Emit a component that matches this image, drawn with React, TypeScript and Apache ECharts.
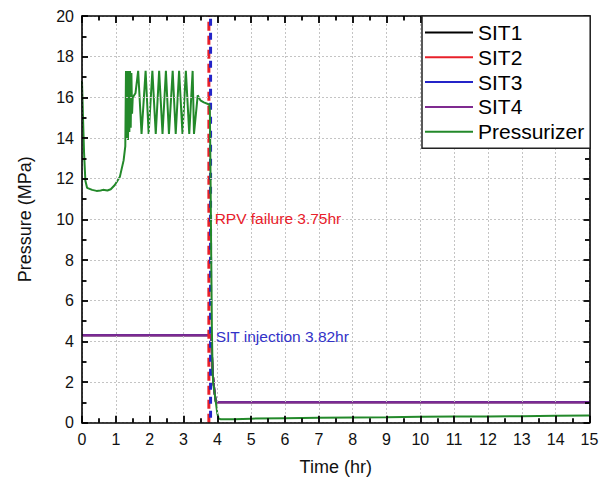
import React, { useEffect, useRef } from "react";
import * as echarts from "echarts";

// ---- Data ----
const prsTime = [
  0, 0.03, 0.06, 0.1, 0.15, 0.3, 0.43, 0.55, 0.62, 0.75, 0.85, 0.97, 1.12, 1.23, 1.28,
  1.3, 1.32, 1.34, 1.36, 1.38, 1.4, 1.42, 1.44, 1.46, 1.48, 1.5, 1.58, 1.66,
  1.76, 1.88, 1.97, 2.08, 2.18, 2.28, 2.38, 2.48, 2.57, 2.68, 2.77, 2.87, 2.97, 3.07, 3.17, 3.27, 3.31,
  3.42, 3.5, 3.6, 3.76, 3.78, 3.8, 3.82, 3.84, 3.86, 3.88, 3.92, 3.96, 4.0, 4.04, 4.1,
  4.5, 5, 6, 7, 8, 9, 10, 11, 12, 13, 14, 15,
];
const prsPressure = [
  16.8, 15.0, 13.3, 11.9, 11.55, 11.45, 11.4, 11.42, 11.45, 11.42, 11.48, 11.69, 12.1, 12.9, 13.6,
  17.3, 14.0, 17.3, 13.9, 17.3, 14.3, 17.3, 14.5, 17.2, 15.2, 16.0, 16.2, 17.3,
  14.2, 17.3, 14.2, 17.3, 14.2, 17.3, 14.2, 17.3, 14.2, 17.3, 14.2, 17.3, 14.2, 17.3, 14.2, 17.3, 14.2,
  16.1, 15.85, 15.75, 15.65, 15.3, 12.0, 8.0, 4.5, 2.5, 1.9, 1.45, 0.95, 0.45, 0.2, 0.17,
  0.17, 0.2, 0.22, 0.24, 0.26, 0.27, 0.29, 0.3, 0.31, 0.32, 0.34, 0.35,
];
const sitTime = [0, 3.82, 3.86, 3.92, 3.96, 15];
const sitPressure = [4.3, 4.3, 2.5, 1.45, 1.0, 1.0];

const rpvFailureTime = 3.75;
const sitInjectionTime = 3.8;
const xRange = [0, 15];
const yRange = [0, 20];

const legendNames = ["SIT1", "SIT2", "SIT3", "SIT4", "Pressurizer"];
const legendColors = ["#000000", "#e8202a", "#2424c8", "#7f2a90", "#23892a"];

const annotations = [
  { text: "RPV failure 3.75hr", t: 3.92, p: 10.05, color: "#e8202a" },
  { text: "SIT injection 3.82hr", t: 3.95, p: 4.24, color: "#3232c8" },
];

const FONT = "'Liberation Sans', Arial, sans-serif";

function pairs(xs: number[], ys: number[]) {
  return xs.map((x, i) => [x, ys[i]]);
}

function makeAxis(kind: "x" | "y", position: string, primary: boolean) {
  const isX = kind === "x";
  const ax: any = {
    type: "value",
    min: isX ? xRange[0] : yRange[0],
    max: isX ? xRange[1] : yRange[1],
    interval: isX ? 1 : 2,
    position,
    z: 4,
    axisLine: { show: true, onZero: false, lineStyle: { color: "#000", width: 1.6 } },
    axisTick: { show: true, inside: true, length: isX ? 7 : 6, lineStyle: { color: "#000", width: 1.8 } },
    minorTick: { show: true, splitNumber: 2, length: 4.5, lineStyle: { color: "#000", width: 1.8 } },
    splitLine: primary
      ? { show: true, lineStyle: { color: "#c4c4c4", type: [2, 2], width: 1 } }
      : { show: false },
    axisLabel: primary
      ? { show: true, fontSize: 16, color: "#111", margin: isX ? 9 : 8, fontFamily: FONT }
      : { show: false },
  };
  if (primary) {
    ax.name = isX ? "Time (hr)" : "Pressure (MPa)";
    ax.nameLocation = "middle";
    ax.nameGap = isX ? 35 : 48;
    ax.nameTextStyle = { fontSize: 18, color: "#111", fontFamily: FONT };
  }
  return ax;
}

export default function App() {
  const ref = useRef<HTMLDivElement>(null);
  useEffect(() => {
    if (!ref.current) return;
    const chart = echarts.init(ref.current, undefined, { renderer: "svg" });

    const sitSeries = legendNames.slice(0, 4).map((n, i) => ({
      name: n,
      type: "line",
      data: pairs(sitTime, sitPressure),
      symbol: "none",
      lineStyle: { color: legendColors[i], width: 2 },
      itemStyle: { color: legendColors[i] },
      z: 2,
    }));

    chart.setOption({
      animation: false,
      backgroundColor: "#fff",
      textStyle: { fontFamily: FONT },
      grid: { left: 82, top: 16, width: 507.5, height: 406.7 },
      legend: {
        data: legendNames,
        orient: "vertical",
        left: 422,
        top: 16,
        padding: [6, 6, 6, 3],
        itemGap: 3.8,
        itemWidth: 48,
        itemHeight: 2,
        icon: "rect",
        textStyle: { fontSize: 21, lineHeight: 21, color: "#000", fontFamily: FONT },
        borderColor: "#222",
        borderWidth: 1.5,
        borderRadius: 0,
        backgroundColor: "#fff",
        z: 5,
      },
      xAxis: [makeAxis("x", "bottom", true), makeAxis("x", "top", false)],
      yAxis: [makeAxis("y", "left", true), makeAxis("y", "right", false)],
      series: [
        ...sitSeries,
        {
          name: "rpv",
          type: "line",
          data: [[rpvFailureTime, yRange[0]], [rpvFailureTime, yRange[1]]],
          symbol: "none",
          lineStyle: { color: "#e8202a", width: 3, type: [9, 5] },
          z: 2,
          silent: true,
        },
        {
          name: "sitinj",
          type: "line",
          data: [[sitInjectionTime, yRange[0]], [sitInjectionTime, yRange[1]]],
          symbol: "none",
          lineStyle: { color: "#2424c8", width: 3, type: [7, 7], dashOffset: 9 },
          z: 2,
          silent: true,
        },
        {
          name: "Pressurizer",
          type: "line",
          data: pairs(prsTime, prsPressure),
          symbol: "none",
          lineStyle: { color: legendColors[4], width: 2 },
          itemStyle: { color: legendColors[4] },
          z: 3,
        },
      ],
    });

    const texts = annotations.map((a) => {
      const [x, y] = chart.convertToPixel({ gridIndex: 0 }, [a.t, a.p]) as number[];
      return {
        type: "text",
        x,
        y,
        z: 10,
        style: {
          text: a.text,
          fill: a.color,
          fontSize: 15.5,
          fontFamily: FONT,
          textAlign: "left",
          textVerticalAlign: "middle",
        },
      };
    });
    chart.setOption({ graphic: texts });

    return () => chart.dispose();
  }, []);
  return (
    <div
      ref={ref}
      style={{ position: "fixed", left: 0, top: 0, width: 606, height: 481, background: "#fff" }}
    />
  );
}
